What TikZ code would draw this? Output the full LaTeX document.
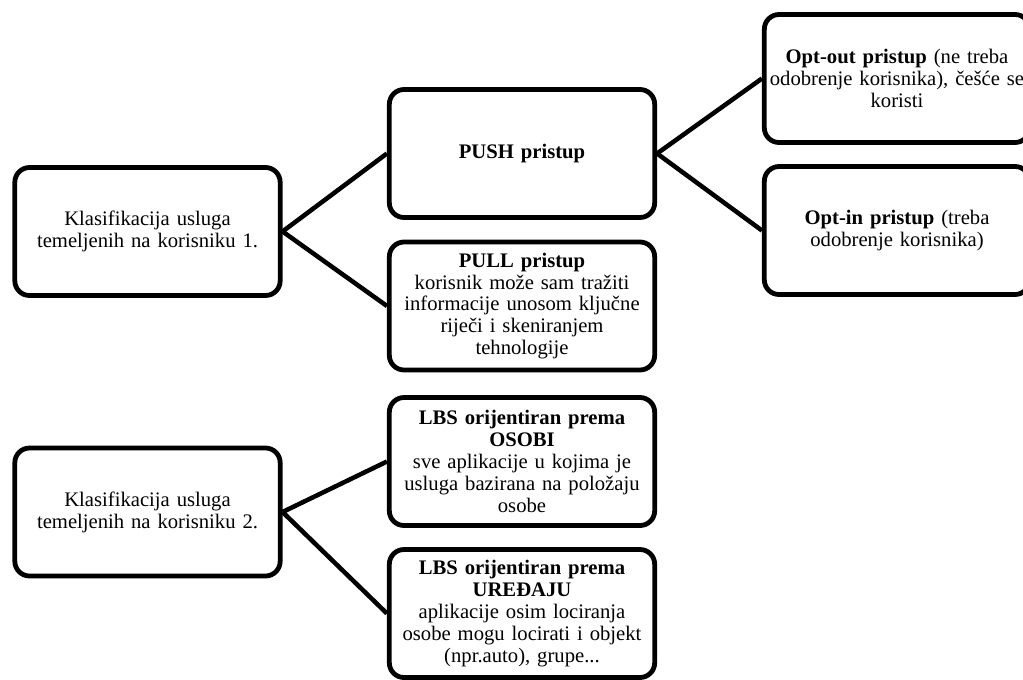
\documentclass[tikz,border=0pt]{standalone}
\usepackage{fontspec}
\setmainfont{Liberation Serif}
\begin{document}
\begin{tikzpicture}[x=0.75pt,y=-0.75pt,
  box/.style={draw=black, line width=3.6pt, rounded corners=11pt, fill=white,
    minimum width=199pt, minimum height=96pt, text width=196pt, align=center,
    inner sep=0pt, font=\fontsize{15.5pt}{16.4pt}\selectfont},
  conn/.style={draw=black, line width=3.4pt}]
\useasboundingbox (0,0) rectangle (1023,679);
\node[box] (k1) at (147.5,231.5) {Klasifikacija usluga\\ temeljenih na korisniku 1.};
\node[box] (push) at (522,153.5) {\textbf{PUSH pristup}};
\node[box] (pull) at (522,306) {\textbf{PULL pristup}\\ korisnik može sam tražiti\\ informacije unosom ključne\\ riječi i skeniranjem\\ tehnologije};
\node[box] (optout) at (897,78.5) {\textbf{Opt-out pristup} (ne treba\\ \makebox[\linewidth]{odobrenje korisnika), češće se}\\ koristi};
\node[box] (optin) at (897,230.5) {\textbf{Opt-in pristup} (treba\\ odobrenje korisnika)};
\node[box] (k2) at (147.5,512) {Klasifikacija usluga\\ temeljenih na korisniku 2.};
\node[box] (osobi) at (522,461.5) {\textbf{LBS orijentiran prema}\\ \textbf{OSOBI}\\ sve aplikacije u kojima je\\ usluga bazirana na položaju\\ osobe};
\node[box] (uredaj) at (522,613.5) {\textbf{LBS orijentiran prema}\\ \textbf{UREĐAJU}\\ aplikacije osim lociranja\\ osobe mogu locirati i objekt\\ (npr.auto), grupe...};
\draw[conn] (k1.east) -- (push.west);
\draw[conn] (k1.east) -- (pull.west);
\draw[conn] (push.east) -- (optout.west);
\draw[conn] (push.east) -- (optin.west);
\draw[conn] (k2.east) -- (osobi.west);
\draw[conn] (k2.east) -- (uredaj.west);
\end{tikzpicture}
\end{document}
